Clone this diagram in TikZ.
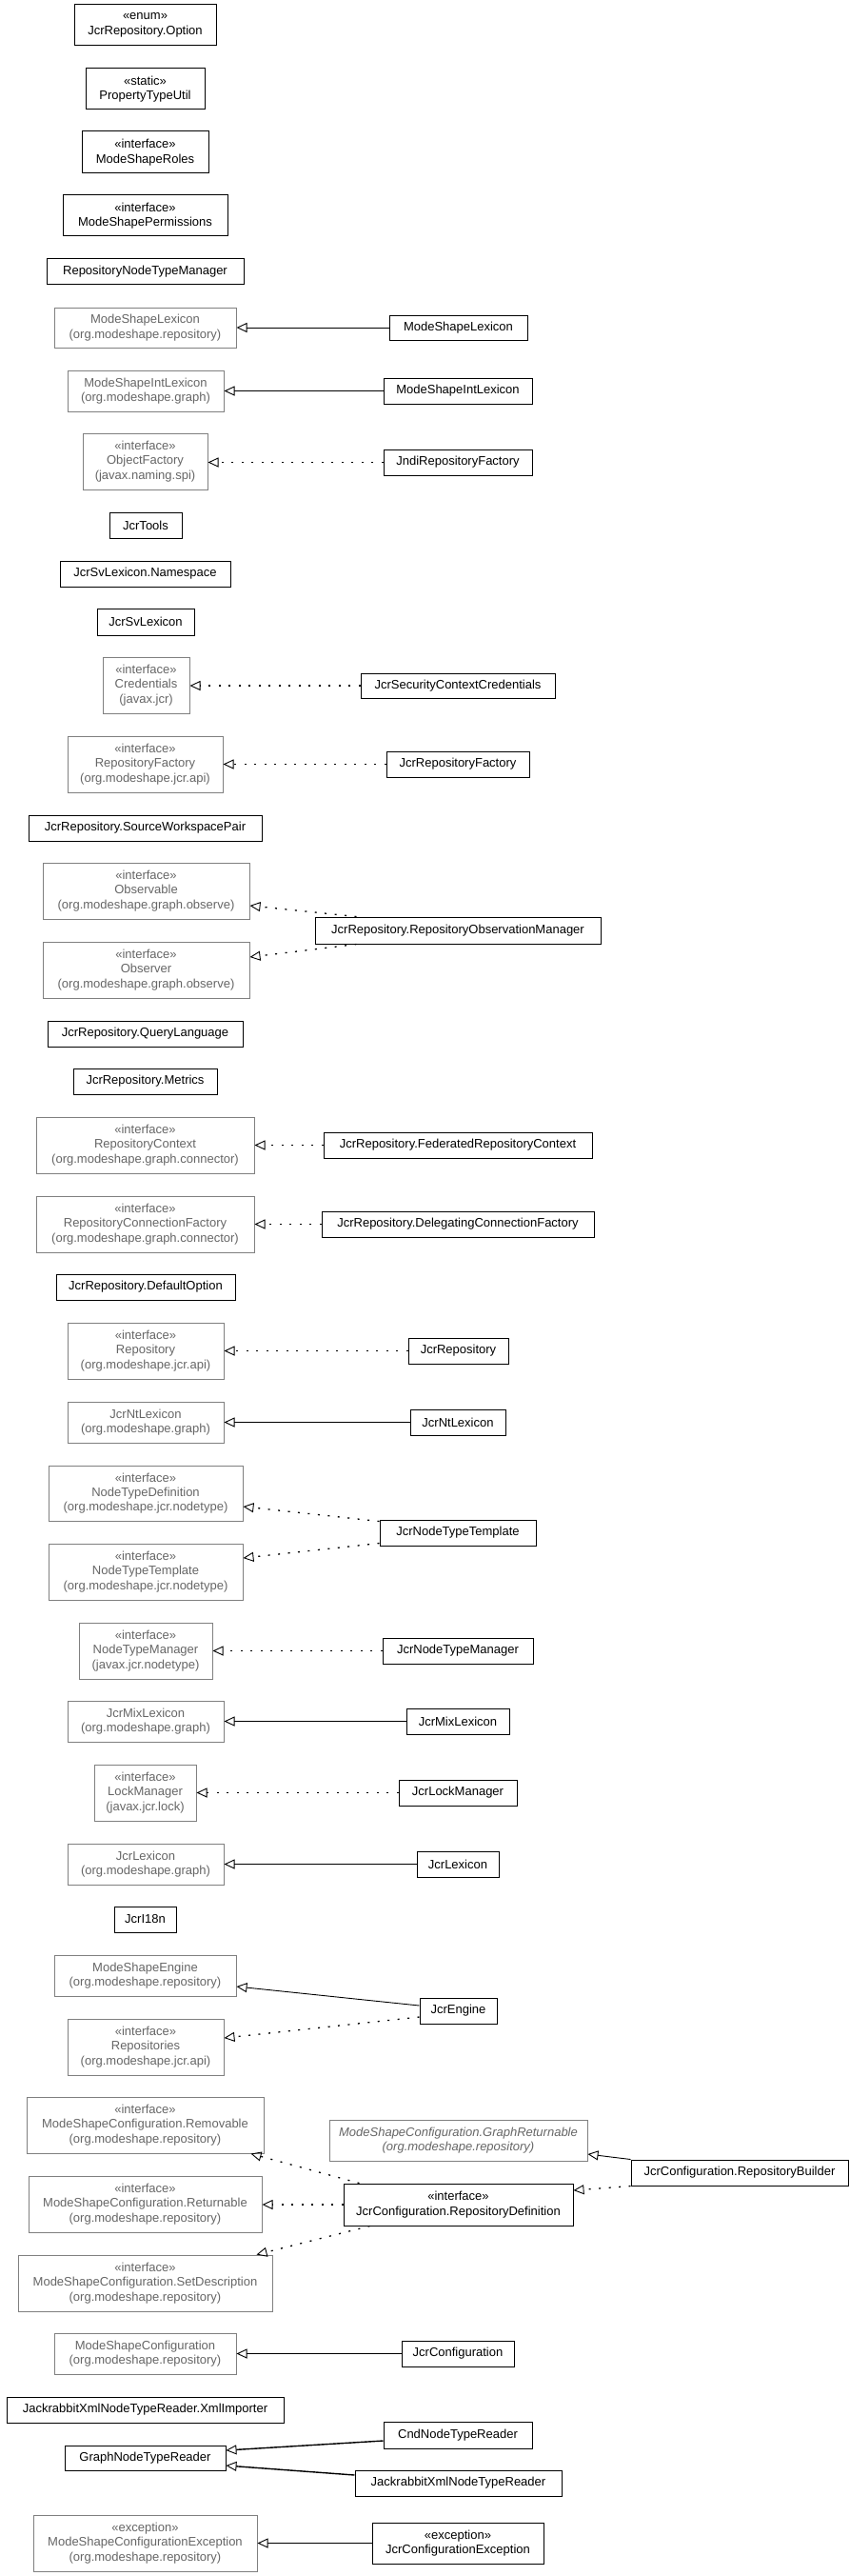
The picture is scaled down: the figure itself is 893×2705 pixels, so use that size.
\documentclass[tikz,border=0pt]{standalone}
\usepackage{fontspec}
\setmainfont{Liberation Sans}
\usetikzlibrary{arrows.meta}
\definecolor{extgray}{HTML}{808080}
\definecolor{exttext}{HTML}{666666}
\newcommand\ubox[7]{\node[#6, minimum width={(#4-#2)*1pt}, minimum height={(#5-#3)*1pt}] (#1) at ({(#2+#4)/2},{(#3+#5)/2}) {#7};}
\begin{document}
\begin{tikzpicture}[x=1pt,y=-1pt,
  cls/.style={draw=black, line width=1pt, text=black, align=center, inner sep=0pt, font=\fontsize{13}{15.3}\selectfont},
  ext/.style={cls, draw=extgray, text=exttext},
  gen/.style={draw=black, line width=0.9pt, -{Triangle[open, length=11pt, width=10pt, line width=0.9pt]}},
  real/.style={gen, line width=1.3pt, dash pattern=on 2pt off 8.5pt},
  thickgen/.style={gen, line width=1.4pt}]
\fill[white] (0,0) rectangle (893,2705);
\useasboundingbox (0,0) rectangle (893,2705);

\ubox{opt}{78}{5}{227}{48}{cls}{«enum»\\JcrRepository.Option}
\ubox{ptu}{90}{72}{215}{115}{cls}{«static»\\PropertyTypeUtil}
\ubox{roles}{86}{138}{219}{182}{cls}{«interface»\\ModeShapeRoles}
\ubox{perms}{66}{205}{239}{248}{cls}{«interface»\\ModeShapePermissions}
\ubox{rntm}{49}{272}{256}{298}{cls}{RepositoryNodeTypeManager}
\ubox{mslexG}{57}{323}{248}{365}{ext}{ModeShapeLexicon\\(org.modeshape.repository)}
\ubox{mslex}{409}{331}{554}{357}{cls}{ModeShapeLexicon}
\ubox{msilG}{71}{389}{235}{432}{ext}{ModeShapeIntLexicon\\(org.modeshape.graph)}
\ubox{msil}{403}{397}{559}{424}{cls}{ModeShapeIntLexicon}
\ubox{ofG}{87}{455}{218}{514}{ext}{«interface»\\ObjectFactory\\(javax.naming.spi)}
\ubox{jndi}{403}{472}{559}{499}{cls}{JndiRepositoryFactory}
\ubox{tools}{115}{538}{191}{565}{cls}{JcrTools}
\ubox{svns}{63}{589}{242}{616}{cls}{JcrSvLexicon.Namespace}
\ubox{svlex}{102}{639}{204}{667}{cls}{JcrSvLexicon}
\ubox{credG}{108}{690}{199}{749}{ext}{«interface»\\Credentials\\(javax.jcr)}
\ubox{jscc}{379}{707}{583}{733}{cls}{JcrSecurityContextCredentials}
\ubox{rfG}{71}{773}{234}{832}{ext}{«interface»\\RepositoryFactory\\(org.modeshape.jcr.api)}
\ubox{jrf}{406}{789}{556}{816}{cls}{JcrRepositoryFactory}
\ubox{swp}{30}{856}{275}{883}{cls}{JcrRepository.SourceWorkspacePair}
\ubox{obsG}{45}{906}{262}{965}{ext}{«interface»\\Observable\\(org.modeshape.graph.observe)}
\ubox{obsrG}{45}{989}{262}{1048}{ext}{«interface»\\Observer\\(org.modeshape.graph.observe)}
\ubox{rom}{331}{963}{631}{991}{cls}{JcrRepository.RepositoryObservationManager}
\ubox{ql}{50}{1072}{255}{1099}{cls}{JcrRepository.QueryLanguage}
\ubox{metrics}{77}{1122}{228}{1149}{cls}{JcrRepository.Metrics}
\ubox{rcG}{38}{1173}{267}{1232}{ext}{«interface»\\RepositoryContext\\(org.modeshape.graph.connector)}
\ubox{frc}{340}{1189}{622}{1216}{cls}{JcrRepository.FederatedRepositoryContext}
\ubox{rcfG}{38}{1256}{267}{1315}{ext}{«interface»\\RepositoryConnectionFactory\\(org.modeshape.graph.connector)}
\ubox{dcf}{338}{1272}{624}{1299}{cls}{JcrRepository.DelegatingConnectionFactory}
\ubox{defopt}{59}{1338}{247}{1365}{cls}{JcrRepository.DefaultOption}
\ubox{repoG}{71}{1389}{235}{1448}{ext}{«interface»\\Repository\\(org.modeshape.jcr.api)}
\ubox{repo}{429}{1405}{534}{1432}{cls}{JcrRepository}
\ubox{ntlexG}{71}{1472}{235}{1515}{ext}{JcrNtLexicon\\(org.modeshape.graph)}
\ubox{ntlex}{431}{1480}{531}{1507}{cls}{JcrNtLexicon}
\ubox{ntdG}{51}{1539}{255}{1597}{ext}{«interface»\\NodeTypeDefinition\\(org.modeshape.jcr.nodetype)}
\ubox{ntt}{399}{1596}{563}{1623}{cls}{JcrNodeTypeTemplate}
\ubox{nttG}{51}{1621}{255}{1680}{ext}{«interface»\\NodeTypeTemplate\\(org.modeshape.jcr.nodetype)}
\ubox{ntmG}{83}{1704}{223}{1763}{ext}{«interface»\\NodeTypeManager\\(javax.jcr.nodetype)}
\ubox{ntm}{402}{1720}{560}{1747}{cls}{JcrNodeTypeManager}
\ubox{mixG}{71}{1786}{235}{1829}{ext}{JcrMixLexicon\\(org.modeshape.graph)}
\ubox{mix}{427}{1794}{535}{1821}{cls}{JcrMixLexicon}
\ubox{lmG}{99}{1853}{206}{1912}{ext}{«interface»\\LockManager\\(javax.jcr.lock)}
\ubox{lm}{419}{1869}{543}{1896}{cls}{JcrLockManager}
\ubox{lexG}{71}{1936}{235}{1979}{ext}{JcrLexicon\\(org.modeshape.graph)}
\ubox{lex}{438}{1944}{524}{1971}{cls}{JcrLexicon}
\ubox{i18n}{120}{2002}{185}{2029}{cls}{JcrI18n}
\ubox{mseG}{57}{2053}{248}{2096}{ext}{ModeShapeEngine\\(org.modeshape.repository)}
\ubox{engine}{441}{2098}{522}{2125}{cls}{JcrEngine}
\ubox{reposG}{71}{2120}{235}{2179}{ext}{«interface»\\Repositories\\(org.modeshape.jcr.api)}
\ubox{remG}{28}{2202}{277}{2261}{ext}{«interface»\\ModeShapeConfiguration.Removable\\(org.modeshape.repository)}
\ubox{grG}{346}{2226}{617}{2269}{ext, font=\fontsize{13}{15.3}\selectfont\itshape}{ModeShapeConfiguration.GraphReturnable\\(org.modeshape.repository)}
\ubox{rb}{663}{2268}{891}{2295}{cls}{JcrConfiguration.RepositoryBuilder}
\ubox{rd}{361}{2293}{602}{2337}{cls}{«interface»\\JcrConfiguration.RepositoryDefinition}
\ubox{retG}{30}{2285}{275}{2344}{ext}{«interface»\\ModeShapeConfiguration.Returnable\\(org.modeshape.repository)}
\ubox{sdG}{19}{2368}{286}{2427}{ext}{«interface»\\ModeShapeConfiguration.SetDescription\\(org.modeshape.repository)}
\ubox{mscG}{57}{2450}{248}{2493}{ext}{ModeShapeConfiguration\\(org.modeshape.repository)}
\ubox{jc}{422}{2458}{540}{2485}{cls}{JcrConfiguration}
\ubox{xmlimp}{7}{2517}{298}{2544}{cls}{JackrabbitXmlNodeTypeReader.XmlImporter}
\ubox{cnd}{403}{2543}{559}{2571}{cls}{CndNodeTypeReader}
\ubox{gntr}{68}{2568}{237}{2594}{cls}{GraphNodeTypeReader}
\ubox{jxntr}{373}{2594}{590}{2621}{cls}{JackrabbitXmlNodeTypeReader}
\ubox{mscexG}{35}{2641}{270}{2700}{ext}{«exception»\\ModeShapeConfigurationException\\(org.modeshape.repository)}
\ubox{jcex}{391}{2649}{571}{2692}{cls}{«exception»\\JcrConfigurationException}

% connectors
\draw[gen] (mslex.west) -- (mslexG.east);
\draw[gen] (msil.west) -- (msilG.east);
\draw[real] (jndi.west) -- (jndi.west -| ofG.east);
\draw[real] (jscc.west) -- (jscc.west -| credG.east);
\draw[real] (jrf.west) -- (rfG.east);
\draw[real] ([xshift=44pt]rom.north west) -- ([yshift=-15.5pt]obsG.east);
\draw[real] ([xshift=44pt]rom.south west) -- ([yshift=13.5pt]obsrG.east);
\draw[real] (frc.west) -- (rcG.east);
\draw[real] (dcf.west) -- (rcfG.east);
\draw[real] (repo.west) -- (repoG.east);
\draw[gen] (ntlex.west) -- (ntlexG.east);
\draw[real] ([yshift=-2pt]ntt.north west) -- ([yshift=-14pt]ntdG.east);
\draw[real] ([yshift=3pt]ntt.south west) -- ([yshift=14.5pt]nttG.east);
\draw[real] (ntm.west) -- (ntmG.east);
\draw[gen] (mix.west) -- (mixG.east);
\draw[real] (lm.west) -- (lmG.east);
\draw[gen] (lex.west) -- (lexG.east);
\draw[gen] ([yshift=5.5pt]engine.west) -- ([yshift=-11.5pt]mseG.east);
\draw[real] ([yshift=-6.5pt]engine.west) -- ([yshift=9.5pt]reposG.east);
\draw[gen] (rb.north west) -- ([yshift=-14.5pt]grG.east);
\draw[real] (rb.south west) -- ([yshift=15pt]rd.east);
\draw[real] ([xshift=17pt]rd.north west) -- ([xshift=-14pt]remG.south east);
\draw[real] (rd.west) -- (rd.west -| retG.east);
\draw[real] ([xshift=28pt]rd.south west) -- ([xshift=-17pt]sdG.north east);
\draw[gen] (jc.west) -- (mscG.east);
\draw[thickgen] ([yshift=-6pt]cnd.west) -- ([yshift=8pt]gntr.east);
\draw[thickgen] ([yshift=8.5pt]jxntr.west) -- ([yshift=-8pt]gntr.east);
\draw[gen] (jcex.west) -- (mscexG.east);
\end{tikzpicture}
\end{document}
